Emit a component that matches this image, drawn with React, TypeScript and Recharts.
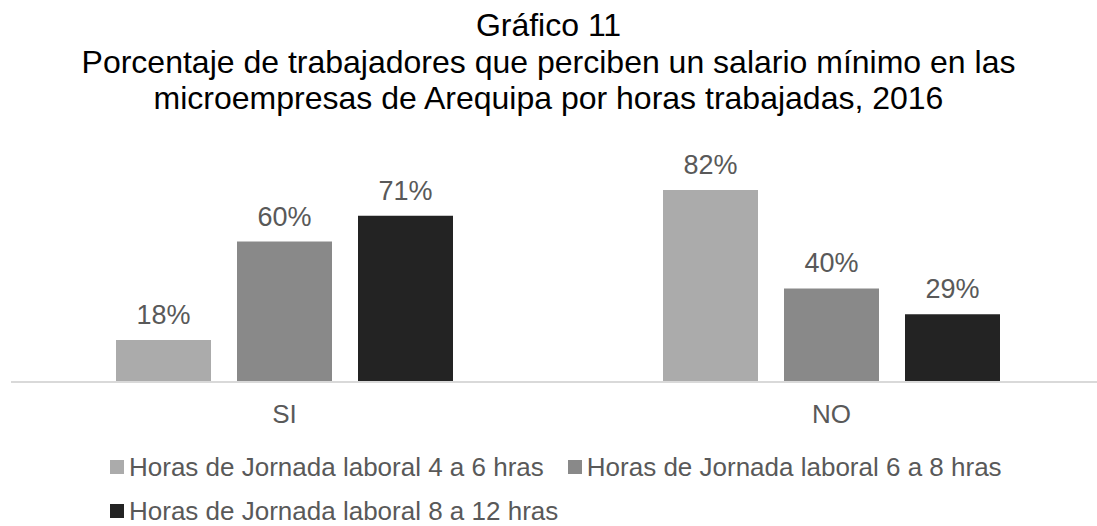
import React from "react";
import { BarChart, Bar, XAxis, YAxis, LabelList, Legend } from "recharts";

const categories = ["SI", "NO"];
const seriesNames = [
  "Horas de Jornada laboral 4 a 6 hras",
  "Horas de Jornada laboral 6 a 8 hras",
  "Horas de Jornada laboral 8 a 12 hras",
];
const serie4a6 = [18, 82];
const serie6a8 = [60, 40];
const serie8a12 = [71, 29];
const colors = ["#ababab", "#898989", "#232323"];
const titleLines = [
  "Gráfico 11",
  "Porcentaje de trabajadores que perciben un salario mínimo en las",
  "microempresas de Arequipa por horas trabajadas, 2016",
];

const keys = ["s1", "s2", "s3"];
const data = categories.map((c, i) => ({
  cat: c,
  s1: serie4a6[i],
  s2: serie6a8[i],
  s3: serie8a12[i],
}));

const FONT = "'Liberation Sans', Arial, sans-serif";

const LegendContent = () => (
  <div
    style={{
      display: "flex",
      flexWrap: "wrap",
      width: 940,
      fontFamily: FONT,
      fontSize: 26,
      color: "#595959",
    }}
  >
    {seriesNames.map((n, i) => (
      <div
        key={n}
        style={{
          display: "flex",
          alignItems: "center",
          height: 44,
          marginRight: 24,
        }}
      >
        <span
          style={{
            display: "inline-block",
            width: 14,
            height: 14,
            background: colors[i],
            marginRight: 5,
          }}
        />
        <span>{n}</span>
      </div>
    ))}
  </div>
);

export default function App() {
  return (
    <div
      style={{
        position: "absolute",
        left: 0,
        top: 0,
        width: 1097,
        height: 526,
        overflow: "hidden",
        background: "#ffffff",
      }}
    >
      <div
        style={{
          position: "absolute",
          top: 7,
          left: 0,
          width: 1097,
          textAlign: "center",
          fontFamily: FONT,
          fontSize: 32,
          lineHeight: "36.5px",
          color: "#000",
          zIndex: 2,
        }}
      >
        {titleLines.map((t) => (
          <div key={t}>{t}</div>
        ))}
      </div>
      <div style={{ position: "absolute", left: 0, top: 0 }}>
        <BarChart
          width={1110}
          height={526}
          data={data}
          margin={{ top: 148, right: 5, bottom: 104, left: 11 }}
          barSize={95}
          barGap={26}
        >
          <XAxis
            dataKey="cat"
            axisLine={{ stroke: "#d9d9d9", strokeWidth: 2 }}
            tickLine={false}
            height={40}
            tickMargin={17}
            tick={{ fill: "#595959", fontSize: 26, fontFamily: FONT }}
          />
          <YAxis hide domain={[0, 100]} />
          <Legend
            layout="horizontal"
            verticalAlign="middle"
            align="center"
            content={<LegendContent />}
            wrapperStyle={{ position: "absolute", left: 110, top: 445, width: 940 }}
          />
          {keys.map((k, i) => (
            <Bar
              key={k}
              dataKey={k}
              name={seriesNames[i]}
              fill={colors[i]}
              isAnimationActive={false}
            >
              <LabelList
                dataKey={k}
                position="top"
                offset={16}
                formatter={(v: number) => `${v}%`}
                style={{ fill: "#595959", fontSize: 27, fontFamily: FONT }}
              />
            </Bar>
          ))}
        </BarChart>
      </div>
    </div>
  );
}
